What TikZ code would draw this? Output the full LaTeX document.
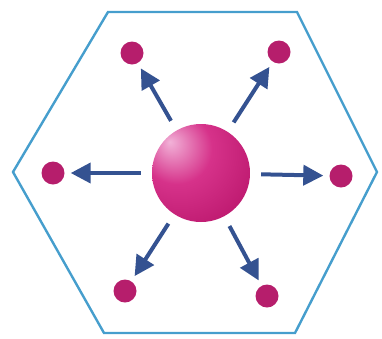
\documentclass[tikz,border=0pt]{standalone}
\usetikzlibrary{arrows.meta}
\definecolor{hexblue}{RGB}{70,158,205}
\definecolor{arrowblue}{RGB}{52,82,145}
\definecolor{dotmag}{RGB}{182,30,108}
\definecolor{ballhi}{RGB}{242,178,216}
\definecolor{ballmag}{RGB}{214,50,138}
\definecolor{ballmid}{RGB}{190,26,112}
\definecolor{balldark}{RGB}{140,16,80}
\pgfdeclareradialshading{myball}{\pgfpoint{-16bp}{16bp}}{color(0bp)=(ballhi); color(18bp)=(ballmag); color(38bp)=(ballmid); color(62bp)=(balldark); color(80bp)=(balldark)}
\tikzset{
  sat/.style={circle, fill=dotmag, minimum size=23pt, inner sep=0pt},
  push/.style={draw=arrowblue, line width=4pt, -{Triangle[length=20pt,width=20pt]}, shorten <=11pt, shorten >=6pt},
  hexline/.style={draw=hexblue, line width=2.4pt, line join=miter}
}
\begin{document}
\begin{tikzpicture}[x=1pt,y=-1pt]
\useasboundingbox (0,0) rectangle (382,338);
\draw[hexline] (108,12) -- (297,12) -- (377,172) -- (295,333) -- (104,333) -- (13,172) -- cycle;
\node[circle, minimum size=98pt, inner sep=0pt, shading=myball] (c) at (201,173) {};
\node[sat] (s1) at (132,53) {};
\node[sat] (s2) at (279,52) {};
\node[sat] (s3) at (53,173) {};
\node[sat] (s4) at (341,176) {};
\node[sat] (s5) at (125,291) {};
\node[sat] (s6) at (267,296) {};
\foreach \s in {s1,s2,s3,s4,s5,s6} \draw[push] (c) -- (\s);
\end{tikzpicture}
\end{document}
